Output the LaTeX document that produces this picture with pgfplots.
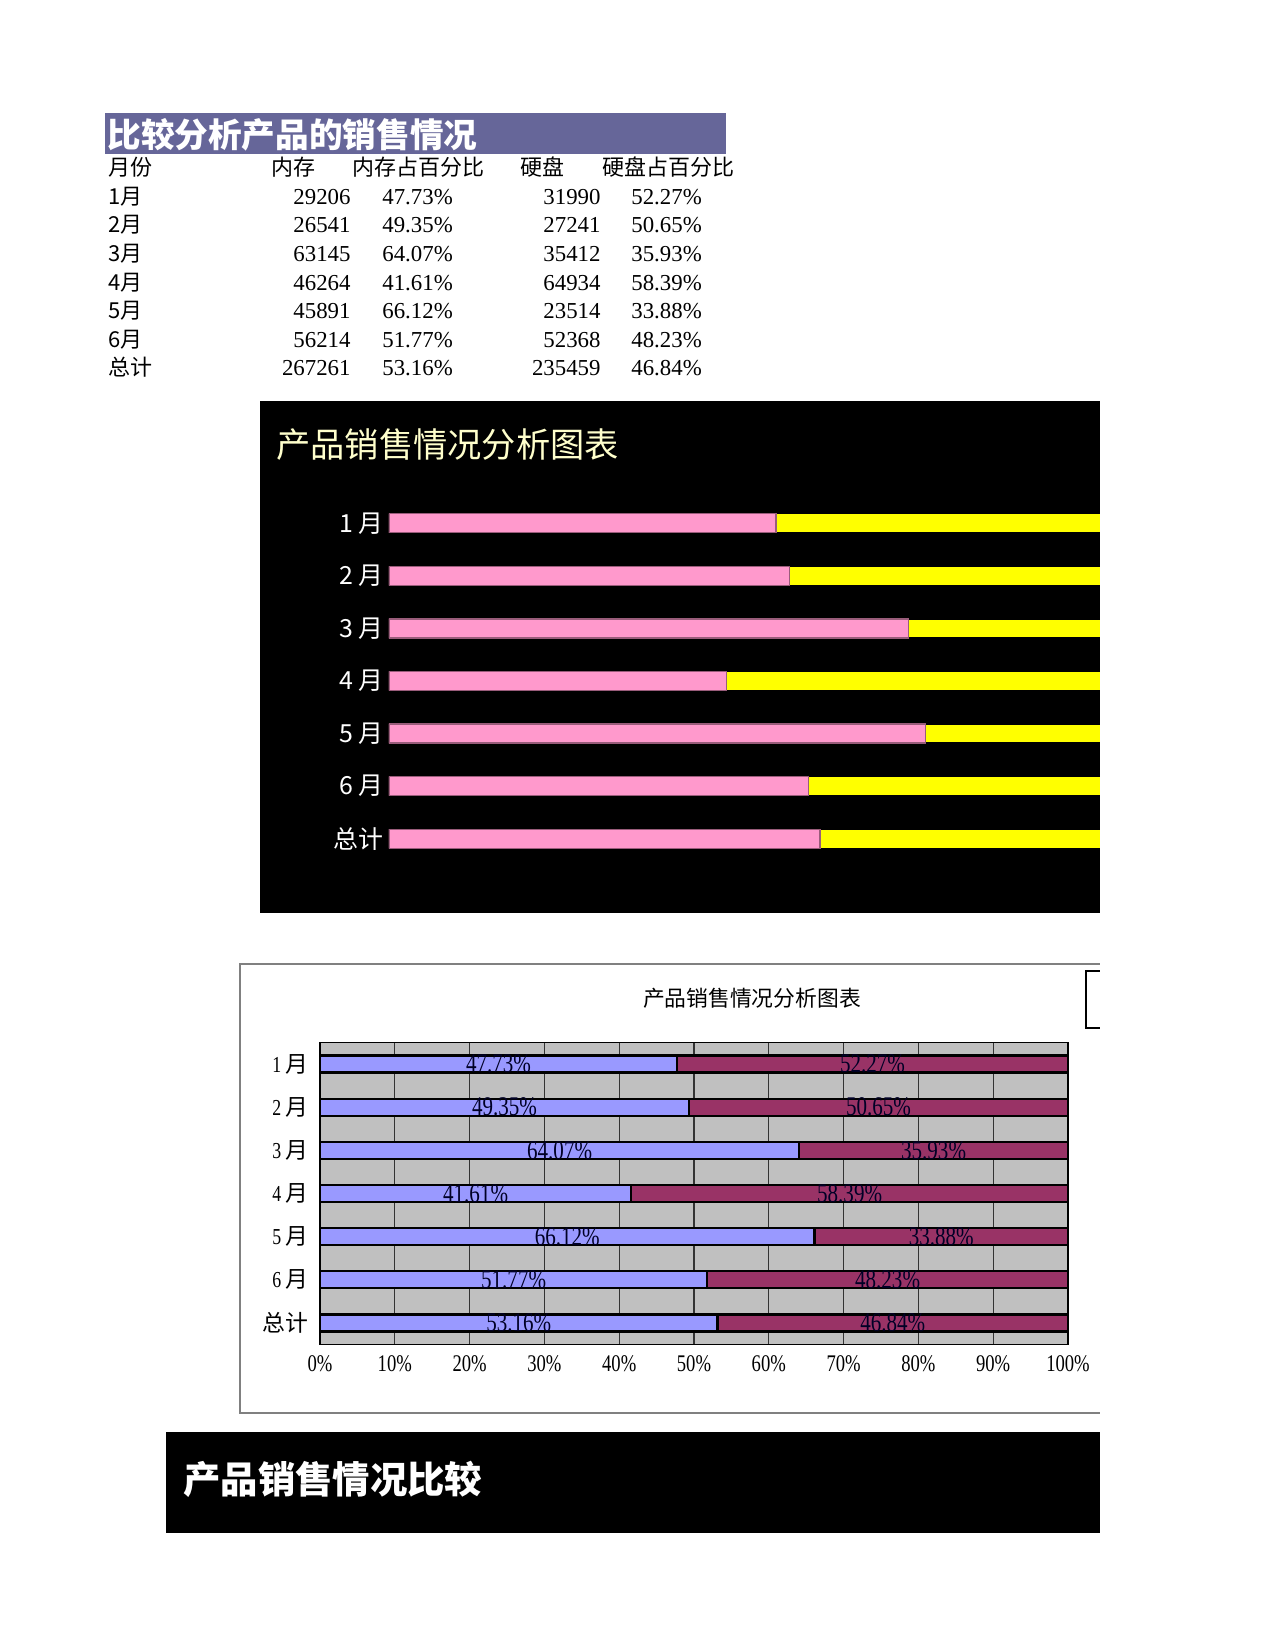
\documentclass[border=0pt]{standalone}
\usepackage{fontspec}
\setmainfont{Liberation Serif}
\newfontfamily\cjk{Noto Sans CJK SC}
\newfontfamily\narrow[FakeStretch=0.78]{Liberation Serif}
\usepackage{pgfplots}
\usepackage{pgfplotstable}
\pgfplotsset{compat=1.18}
\definecolor{titlepurple}{HTML}{666699}
\definecolor{pinkc}{HTML}{FF99CC}
\definecolor{yellowc}{HTML}{FFFF00}
\definecolor{maroonc}{HTML}{993366}
\definecolor{bluec}{HTML}{9999FF}
\definecolor{plotgray}{HTML}{C0C0C0}
\definecolor{lightyel}{HTML}{FFFFCC}

\pgfplotstableread{
idx mem hd
0 47.73 52.27
1 49.35 50.65
2 64.07 35.93
3 41.61 58.39
4 66.12 33.88
5 51.77 48.23
6 53.16 46.84
}\pct

\begin{document}
\begin{tikzpicture}
\path[use as bounding box, fill=white] (0,0) rectangle (614.3pt,-795pt);
\begin{scope}[x=0.4818pt,y=-0.4818pt, every node/.style={inner sep=0pt}]
% title bar
\fill[titlepurple] (105,112.6) rectangle (726,153.6);
\node[anchor=base west, text=white, font=\cjk\bfseries\fontsize{16.2}{19}\selectfont] at (107,148) {比较分析产品的销售情况};
% table
\begin{scope}[font=\fontsize{11}{13}\selectfont]
\node[anchor=base west] at (108,176) {\cjk\fontsize{10.6}{13}\selectfont 月份};
\node[anchor=base west] at (271,176) {\cjk\fontsize{10.6}{13}\selectfont 内存};
\node[anchor=base west] at (352,176) {\cjk\fontsize{10.6}{13}\selectfont 内存占百分比};
\node[anchor=base west] at (520,176) {\cjk\fontsize{10.6}{13}\selectfont 硬盘};
\node[anchor=base west] at (602,176) {\cjk\fontsize{10.6}{13}\selectfont 硬盘占百分比};
\foreach \y/\a/\b/\c/\d/\e in {205/1月/29206/47.73/31990/52.27, 233/2月/26541/49.35/27241/50.65, 262/3月/63145/64.07/35412/35.93, 291/4月/46264/41.61/64934/58.39, 319/5月/45891/66.12/23514/33.88, 348/6月/56214/51.77/52368/48.23, 376/总计/267261/53.16/235459/46.84}{
  \node[anchor=base west] at (108,\y) {\cjk\fontsize{10.6}{13}\selectfont\a};
  \node[anchor=base east] at (351,\y) {\b};
  \node[anchor=base west] at (382,\y) {\c\%};
  \node[anchor=base east] at (601,\y) {\d};
  \node[anchor=base west] at (631,\y) {\e\%};
}
\end{scope}
% chart 1 background
\fill[black] (260,401) rectangle (1100,913);
\node[anchor=west, text=lightyel, font=\cjk\fontsize{16.5}{19}\selectfont] at (276,445) {产品销售情况分析图表};
% chart 2 frame
\draw[gray, line width=0.6pt] (1100,964) -- (240,964) -- (240,1413) -- (1100,1413);
\node[font=\cjk\fontsize{10.5}{12}\selectfont] at (752,998) {产品销售情况分析图表};
\draw[black, line width=0.6pt] (1100,971) -- (1086,971) -- (1086,1028) -- (1100,1028);
% banner
\fill[black] (166,1432) rectangle (1100,1533);
\node[anchor=west, text=white, font=\cjk\bfseries\fontsize{18}{21}\selectfont] at (183,1479) {产品销售情况比较};
\end{scope}

% chart 1 axis
\begin{axis}[
  at={(187.42pt,-239.45pt)}, anchor=north west,
  scale only axis, width=342.56pt, height=177.3pt,
  xmin=0, xmax=87.67, ymin=-0.5, ymax=6.5, y dir=reverse,
  xbar stacked, bar width=9.15pt,
  axis line style={draw=none},
  xtick=\empty, ytick={0,...,6},
  ytick style={draw=none},
  yticklabels={1 月,2 月,3 月,4 月,5 月,6 月,总计},
  yticklabel style={font=\cjk\fontsize{12}{14}\selectfont, text=white, xshift=1pt},
  clip=true,
]
\addplot[fill=pinkc, draw=pinkc!60!black, line width=0.6pt] table[x=mem,y=idx]{\pct};
\addplot[fill=yellowc, draw=black, line width=0.6pt] table[x=hd,y=idx]{\pct};
\end{axis}

% chart 2 axis
\begin{axis}[
  at={(154.18pt,-502.28pt)}, anchor=north west,
  scale only axis, width=360.39pt, height=145.5pt,
  xmin=0, xmax=100, ymin=-0.5, ymax=6.5, y dir=reverse,
  /pgf/number format/assume math mode=true,
  axis background/.style={fill=plotgray},
  axis line style={black, line width=0.8pt},
  xmajorgrids, major grid style={black!80, line width=0.5pt},
  xtick={0,10,...,100},
  xticklabel={\pgfmathprintnumber{\tick}\%},
  xticklabel style={font=\narrow\fontsize{11.5}{13}\selectfont, yshift=-2pt},
  xtick style={draw=none},
  ytick={0,...,6},
  yticklabels={{\narrow 1 }{\cjk 月},{\narrow 2 }{\cjk 月},{\narrow 3 }{\cjk 月},{\narrow 4 }{\cjk 月},{\narrow 5 }{\cjk 月},{\narrow 6 }{\cjk 月},{\cjk 总计}},
  yticklabel style={font=\fontsize{11}{12}\selectfont, xshift=-2pt},
  ytick style={draw=none},
  extra y ticks={-0.5,0.5,...,6.5},
  extra y tick labels={},
  extra y tick style={tick style={draw=black, line width=0.5pt}, major tick length=4pt, tick align=inside, grid=none},
  ytick pos=left, xtick pos=bottom,
]
\addplot[xbar, bar width=8.2pt, bar shift=0pt, fill=maroonc, draw=black, line width=1.1pt] table[x expr=\thisrow{mem}+\thisrow{hd}, y=idx]{\pct};
\addplot[xbar, bar width=8.2pt, bar shift=0pt, fill=bluec, draw=black, line width=1.1pt] table[x=mem, y=idx]{\pct};
\addplot[draw=none, mark=none, point meta=explicit, nodes near coords={\pgfmathprintnumber[fixed,fixed zerofill,precision=2]{\pgfplotspointmeta}\%},
  nodes near coords style={anchor=center, font=\narrow\fontsize{13}{14}\selectfont, text=black!85!blue, yshift=0pt}]
  table[x expr=\thisrow{mem}/2, y=idx, meta=mem]{\pct};
\addplot[draw=none, mark=none, point meta=explicit, nodes near coords={\pgfmathprintnumber[fixed,fixed zerofill,precision=2]{\pgfplotspointmeta}\%},
  nodes near coords style={anchor=center, font=\narrow\fontsize{13}{14}\selectfont, text=black!85!blue, yshift=0pt}]
  table[x expr=\thisrow{mem}+\thisrow{hd}/2, y=idx, meta=hd]{\pct};
\end{axis}
\end{tikzpicture}
\end{document}
